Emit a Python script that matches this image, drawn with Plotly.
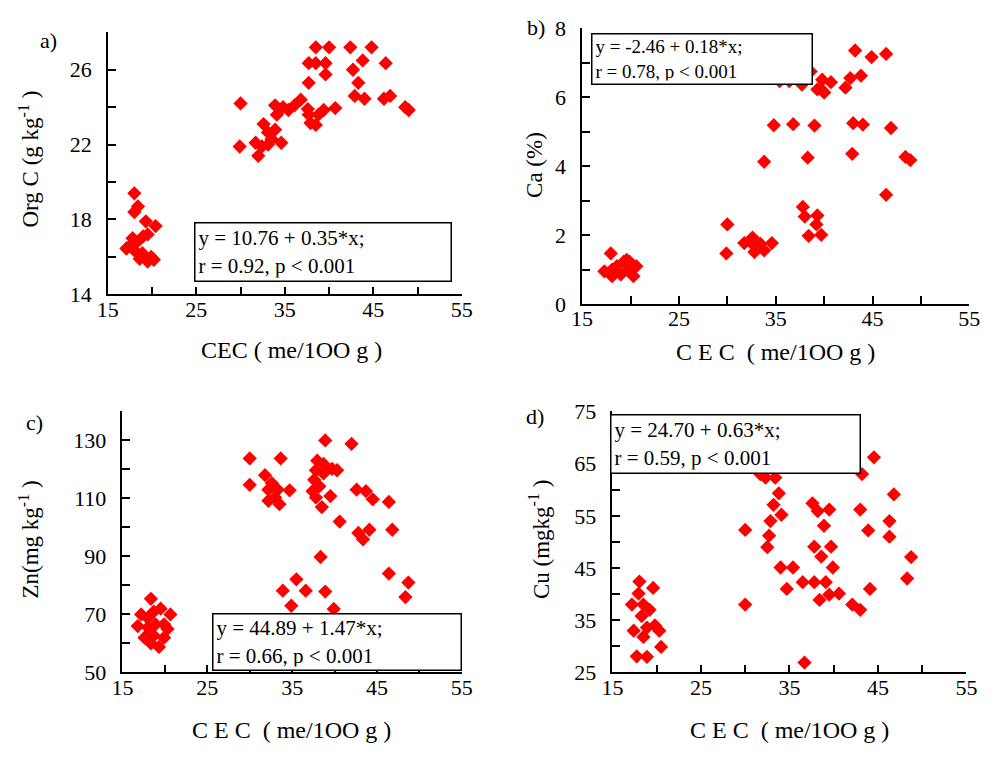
import plotly.graph_objects as go

W, H = 997, 758

# ---------------- data ----------------
cec_a = [18.0, 18.4, 18.0, 19.3, 20.4, 19.5, 17.8, 17.1, 18.0, 18.9, 19.9, 20.2, 19.5, 18.6,
         17.5, 18.3, 19.0,
         30.0, 29.9, 32.0, 31.7, 32.4, 33.1, 32.6, 33.1, 33.5, 34.6,
         33.9, 34.1, 33.9, 34.8, 35.4, 36.1, 36.8, 37.7, 37.7, 38.5,
         38.5, 40.0, 39.6, 39.6, 37.6, 37.7, 37.9, 38.5, 38.8, 39.4,
         40.7, 42.4, 44.8, 43.8, 42.7, 43.3, 42.9, 44.0, 46.4, 46.2,
         46.9, 48.6, 49.0]
orgc = [19.4, 18.7, 18.4, 17.9, 17.65, 17.2, 17.0, 16.45, 16.35, 16.2, 16.0, 15.85, 15.75, 15.9,
        16.6, 16.8, 17.1,
        24.2, 21.9, 21.4, 22.1, 21.9, 22.0, 23.1, 22.65, 22.3, 22.1,
        22.8, 23.6, 24.1, 24.0, 23.85, 24.1, 24.4, 25.3, 26.35, 26.35,
        27.2, 27.2, 26.35, 25.75, 23.9, 23.6, 23.15, 23.05, 23.6, 23.85,
        23.95, 27.2, 27.2, 26.5, 26.0, 25.3, 24.6, 24.45, 26.35, 24.45,
        24.6, 24.0, 23.85]

cec_b = [17.96, 17.3, 18.1, 18.6, 18.1, 19.3, 19.8, 19.9, 20.3, 20.6, 19.0, 19.6,
         30.0, 29.9, 31.75, 32.6, 32.8, 33.4, 33.8, 34.6, 32.4,
         33.8, 34.8, 36.8, 39.0, 38.3, 37.8, 38.0, 39.3, 39.2, 38.4, 39.7,
         35.4, 36.4, 37.7, 38.6, 39.8, 40.7, 39.7, 40.0, 39.3, 42.2,
         42.7, 43.8, 43.2, 44.9, 46.4, 43.0, 44.0, 46.9, 42.9, 48.4, 48.9, 46.4]
ca = [1.47, 0.95, 1.0, 1.1, 0.81, 1.23, 1.0, 1.23, 0.81, 1.1, 0.86, 1.28,
      2.31, 1.47, 1.77, 1.93, 1.51, 1.75, 1.56, 1.77, 1.8,
      4.13, 5.19, 5.22, 5.18, 4.25, 2.82, 2.54, 2.57, 2.31, 1.98, 2.01,
      6.47, 6.47, 6.37, 6.75, 6.51, 6.44, 6.23, 6.14, 6.23, 6.28,
      6.56, 6.63, 7.36, 7.17, 7.26, 5.25, 5.21, 5.11, 4.36, 4.27, 4.18, 3.17]

cec_c = [18.35, 17.2, 16.8, 17.96, 18.7, 19.5, 20.65, 19.9, 20.3, 17.6, 18.7, 18.35, 19.3, 19.9, 18.9, 18.0,
         30.0, 30.0, 33.65, 31.8, 32.6, 32.2, 33.3, 34.7, 32.2, 33.0, 33.5,
         37.96, 38.7, 37.8, 38.7, 39.7, 40.3, 37.6, 38.2, 37.4, 37.8,
         39.5, 38.5, 38.9, 42.0, 42.6, 43.7, 44.5, 46.4, 40.6, 42.8,
         43.35, 44.1, 46.8, 38.35,
         33.9, 35.5, 36.6, 38.9, 34.9, 39.9, 46.4, 48.7, 48.35]
zn = [75.4, 70, 66, 68.8, 71, 72, 70, 66.6, 65, 62, 62.7, 60, 58.8, 62, 66.6, 65.5,
      123.8, 114.7, 123.8, 118, 115.3, 113, 113, 112.8, 109.2, 110.3, 108,
      123, 121.9, 119.7, 118.6, 120.2, 119.7, 116.4, 114.2, 112.5, 110.3,
      110.8, 107, 130, 128.8, 113, 112.5, 109.7, 108.8, 102, 98.1,
      95.9, 99.2, 99.2, 89.8,
      78.2, 82.1, 78.2, 77.9, 73, 71.9, 84.1, 81, 76]

cec_d = [18.05, 17.95, 19.6, 17.2, 18.5, 19.2, 18.3, 17.4, 18.9, 18.5, 19.8, 20.3, 20.5, 17.75, 18.9,
         30.0, 30.0, 31.7, 32.3, 33.4, 33.8, 33.2, 34.1, 32.85, 32.7,
         32.5, 34.0, 35.4, 34.7, 36.5, 37.8, 39.1, 36.7,
         37.6, 38.2, 39.5, 38.9, 37.8, 38.6, 39.7, 39.9, 38.4, 39.5,
         40.6, 42.1, 43.0, 43.2, 44.55, 43.0, 43.9, 44.1, 46.8, 46.3,
         46.3, 48.75, 48.3]
cu = [42.4, 40.1, 41.2, 38, 38, 37, 35.8, 33, 33.6, 31.8, 34, 33, 29.9, 28.1, 28,
      52.3, 38, 63, 62.3, 62.3, 59.3, 57.1, 55.2, 54, 51.2,
      49, 45.1, 45.1, 41, 42.3, 42.3, 42.3, 26.9,
      57.4, 55.9, 56.2, 53.1, 49.1, 47.2, 49.1, 45.1, 38.9, 39.9,
      40.1, 38, 37, 63, 66.2, 56.2, 52.2, 41, 59.1, 54,
      51, 47.1, 43]

panel_letters = ["a)", "b)", "c)", "d)"]
y_titles = ["Org C (g kg<sup>-1</sup> )", "Ca (%)", "Zn(mg kg<sup>-1</sup> )", "Cu (mgkg<sup>-1</sup> )"]
x_titles = ["CEC ( me/1OO g )", "C E C  ( me/1OO g )", "C E C  ( me/1OO g )", "C E C  ( me/1OO g )"]
equations = ["y = 10.76 + 0.35*x;<br>r = 0.92, p &lt; 0.001",
             "y = -2.46 + 0.18*x;<br>r = 0.78, p &lt; 0.001",
             "y = 44.89 + 1.47*x;<br>r = 0.66, p &lt; 0.001",
             "y = 24.70 + 0.63*x;<br>r = 0.59, p &lt; 0.001"]

x_range = [15, 55]
x_label_step, x_minor_step = 10, 5
y_ranges = [[14, 28], [0, 8], [50, 140], [25, 75]]
y_label_steps = [4, 2, 20, 10]
y_minor_steps = [2, 1, 10, 5]

# ---------------- layout geometry (pixels) ----------------
FONT = "Liberation Serif"
RED = "#ff0000"

def fx(p):
    return p / W

def fy(p):
    return 1 - p / H

plot_boxes = [  # (left, right, top, bottom) in px
    (99, 461, 21, 292),
    (584, 980, 17, 302),
    (114, 461, 413, 683),
    (615, 977, 413, 683),
]
letter_pos = [(38, 29), (537, 16), (24, 425), (536, 418)]
ytitle_pos = [(19, 152), (536, 158), (19, 546), (541, 546)]
xtitle_pos = [(287, 350), (782, 352), (287, 742), (796, 742)]
eq_boxes = [  # (left, top, right, bottom)
    (187, 217, 448, 276),
    (593, 22, 818, 73),
    (206, 621, 459, 678),
    (613, 416, 867, 475),
]
eq_sizes = [21, 19, 21, 21]

series = [(cec_a, orgc), (cec_b, ca), (cec_c, zn), (cec_d, cu)]

fig = go.Figure()
annotations = []
layout_axes = {}

for i, ((xs, ys), box) in enumerate(zip(series, plot_boxes)):
    n = "" if i == 0 else str(i + 1)
    fig.add_trace(go.Scatter(
        x=xs, y=ys, mode="markers",
        xaxis="x" + n, yaxis="y" + n,
        marker=dict(symbol="diamond", size=11, color=RED, line=dict(width=0)),
        cliponaxis=False, showlegend=False, hoverinfo="x+y",
    ))
    l, r, t, b = box
    common = dict(showline=True, linecolor="black", linewidth=1.5, showgrid=False,
                  zeroline=False, ticks="inside", ticklen=8, tickwidth=1.5, tickcolor="black",
                  tickfont=dict(family=FONT, size=22, color="black"), tickmode="linear")
    minor = dict(ticks="inside", ticklen=8, tickwidth=1.5, tickcolor="black", showgrid=False)
    layout_axes["xaxis" + n] = dict(
        domain=[fx(l), fx(r)], range=x_range, anchor="y" + n,
        tick0=x_range[0], dtick=x_label_step,
        minor=dict(tick0=x_range[0], dtick=x_minor_step, **minor),
        ticklabelstandoff=-6, **common)
    layout_axes["yaxis" + n] = dict(
        domain=[fy(b), fy(t)], range=y_ranges[i], anchor="x" + n,
        tick0=y_ranges[i][0], dtick=y_label_steps[i],
        minor=dict(tick0=y_ranges[i][0], dtick=y_minor_steps[i], **minor),
        ticklabelstandoff=10, **common)

    # panel letter
    lx, ly = letter_pos[i]
    annotations.append(dict(text=panel_letters[i], x=fx(lx), y=fy(ly), xref="paper", yref="paper",
                            xanchor="center", yanchor="middle", showarrow=False,
                            font=dict(family=FONT, size=22, color="black")))
    # y title
    tx, ty = ytitle_pos[i]
    annotations.append(dict(text=y_titles[i], x=fx(tx), y=fy(ty), xref="paper", yref="paper",
                            xanchor="center", yanchor="middle", showarrow=False, textangle=-90,
                            font=dict(family=FONT, size=23, color="black")))
    # x title
    tx, ty = xtitle_pos[i]
    annotations.append(dict(text=x_titles[i], x=fx(tx), y=fy(ty), xref="paper", yref="paper",
                            xanchor="center", yanchor="middle", showarrow=False,
                            font=dict(family=FONT, size=24, color="black")))
    # equation box
    el, et, er, eb = eq_boxes[i]
    annotations.append(dict(text=equations[i], x=fx(el), y=fy(et), xref="paper", yref="paper",
                            xanchor="left", yanchor="top", showarrow=False, align="left",
                            width=er - el - 12, height=eb - et - 8,
                            bgcolor="white", bordercolor="black", borderwidth=1.5, borderpad=3,
                            font=dict(family=FONT, size=eq_sizes[i], color="black")))

fig.update_layout(
    width=W, height=H, margin=dict(l=0, r=0, t=0, b=0),
    paper_bgcolor="white", plot_bgcolor="white",
    annotations=annotations, **layout_axes,
)

fig.write_html("out.html")
